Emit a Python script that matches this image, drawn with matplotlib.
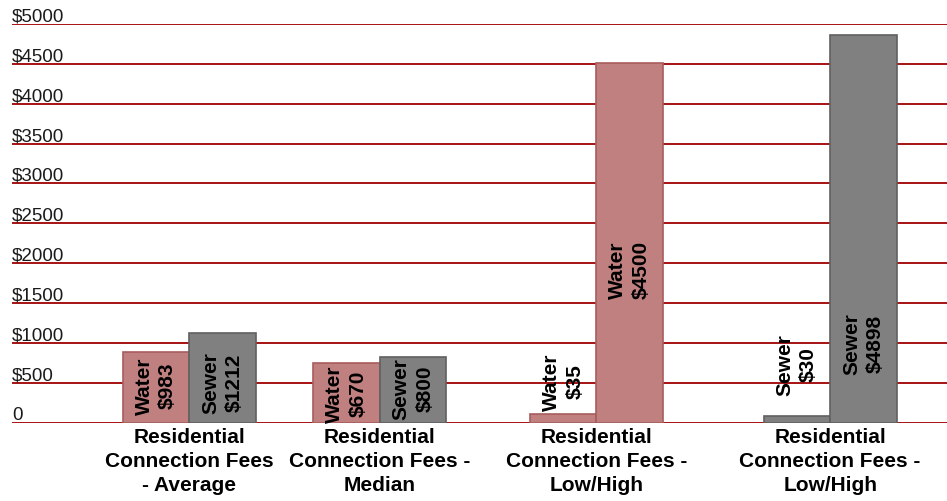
import matplotlib
matplotlib.use("Agg")
import matplotlib.pyplot as plt
import matplotlib.transforms as mtransforms

# ---------------- data ----------------
categories = [
    "Residential\nConnection Fees\n- Average",
    "Residential\nConnection Fees -\nMedian",
    "Residential\nConnection Fees -\nLow/High",
    "Residential\nConnection Fees -\nLow/High",
]
left_kind = ["Water", "Water", "Water", "Sewer"]
right_kind = ["Sewer", "Sewer", "Water", "Sewer"]
left_label_values = [983, 670, 35, 30]
right_label_values = [1212, 800, 4500, 4898]
# bar heights as drawn in the picture
left_heights = [881, 750, 103, 78]
right_heights = [1119, 826, 4514, 4858]
y_ticks = [0, 500, 1000, 1500, 2000, 2500, 3000, 3500, 4000, 4500, 5000]
y_tick_labels = ["0", "$500", "$1000", "$1500", "$2000", "$2500", "$3000",
                 "$3500", "$4000", "$4500", "$5000"]

# ---------------- layout / style ----------------
group_pos = [0.258, 1.073, 2.0, 3.0]
bar_w = 0.285
left_label_y = [458, 358, 508, 721]
right_label_y = [496, 420, 1913, 985]
fill = {"Water": "#C08080", "Sewer": "#808080"}
edge = {"Water": "#A85C5C", "Sewer": "#606060"}
grid_color = "#A00000"
font = ["Liberation Sans", "DejaVu Sans"]
plt.rcParams["font.family"] = font

fig = plt.figure(figsize=(9.47, 5.01), dpi=100)
ax = fig.add_axes([12 / 947, 1 - 422.5 / 501, 1 - 12 / 947, (422.5 - 24) / 501])
ax.set_xlim(-0.5, 3.5)
ax.set_ylim(0, 5000)
ax.set_axisbelow(True)
for s in ax.spines.values():
    s.set_visible(False)

for yv in y_ticks:
    ax.axhline(yv, color=grid_color, lw=1.3, zorder=0)

for i in range(len(categories)):
    xl = group_pos[i] - bar_w / 2
    xr = group_pos[i] + bar_w / 2
    ax.bar(xl, left_heights[i], width=bar_w, color=fill[left_kind[i]],
           edgecolor=edge[left_kind[i]], linewidth=1.2, zorder=2)
    ax.bar(xr, right_heights[i], width=bar_w, color=fill[right_kind[i]],
           edgecolor=edge[right_kind[i]], linewidth=1.2, zorder=2)
    ax.text(xl, left_label_y[i], f"{left_kind[i]}\n${left_label_values[i]}",
            rotation=90, ha="center", va="center", multialignment="center",
            fontsize=15, fontweight="bold", color="black", linespacing=1.3,
            zorder=3)
    ax.text(xr, right_label_y[i], f"{right_kind[i]}\n${right_label_values[i]}",
            rotation=90, ha="center", va="center", multialignment="center",
            fontsize=15, fontweight="bold", color="black", linespacing=1.3,
            zorder=3)

# y tick labels sitting above each gridline
ax.set_yticks([])
trans = mtransforms.blended_transform_factory(ax.transAxes, ax.transData)
off = mtransforms.offset_copy(trans, fig=fig, x=0, y=2.5, units="dots")
for yv, lab in zip(y_ticks, y_tick_labels):
    ax.text(0, yv, lab, transform=off, ha="left", va="baseline",
            fontsize=13.5, color="#1a1a1a")

ax.set_xticks(group_pos)
ax.set_xticklabels(categories, fontsize=15, fontweight="bold",
                   linespacing=1.32)
ax.tick_params(axis="x", length=0, pad=4)

fig.savefig("out.png", dpi=100)
